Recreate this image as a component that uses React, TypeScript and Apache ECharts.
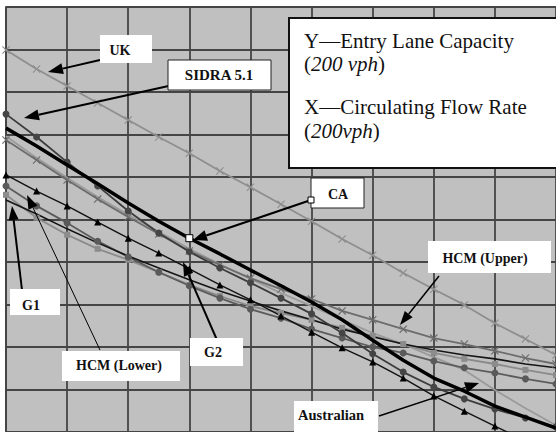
import React, { useEffect, useRef } from "react";
import * as echarts from "echarts";

// x in grid units (each grid cell = 200 vph), samples every half cell
const xValues = [0, 0.5, 1, 1.5, 2, 2.5, 3, 3.5, 4, 4.5, 5, 5.5, 6, 6.5, 7, 7.5, 8, 8.5, 9];

// y in grid units
const ukValues = [8.99, 8.54, 8.14, 7.74, 7.34, 6.94, 6.56, 6.14, 5.76, 5.36, 4.96, 4.54, 4.16, 3.74, 3.36, 2.99, 2.56, 2.19, 1.81];
const sidraValues = [7.48, 6.94, 6.35, 5.79, 5.2, 4.68, 4.24, 3.86, 3.51, 3.15, 2.78, 2.33, 1.84, 1.41, 1.06, 0.78, 0.54, 0.33, 0.12];
const caValues = [7.15, 6.73, 6.28, 5.84, 5.39, 4.96, 4.56, 4.19, 3.81, 3.44, 3.06, 2.64, 2.16, 1.69, 1.27, 0.96, 0.61, 0.35, 0.09];
const hcmUpperValues = [6.87, 6.4, 5.93, 5.48, 5.06, 4.66, 4.26, 3.93, 3.62, 3.36, 3.13, 2.85, 2.64, 2.42, 2.21, 2.07, 1.91, 1.74, 1.6];
const hcmLowerValues = [5.79, 5.32, 4.92, 4.49, 4.12, 3.76, 3.44, 3.15, 2.89, 2.68, 2.42, 2.21, 2.0, 1.86, 1.67, 1.51, 1.39, 1.25, 1.13];
const g1Values = [5.46, 5.13, 4.78, 4.45, 4.14, 3.86, 3.58, 3.32, 3.08, 2.85, 2.64, 2.42, 2.24, 2.07, 1.93, 1.81, 1.72, 1.6, 1.51];
const g2Values = [6.05, 5.67, 5.32, 4.94, 4.56, 4.21, 3.84, 3.46, 3.11, 2.73, 2.35, 1.98, 1.65, 1.27, 0.85, 0.49, 0.14, -0.21, -0.56];
const australianValues = [6.96, 6.45, 5.98, 5.53, 5.11, 4.71, 4.31, 3.95, 3.6, 3.27, 2.96, 2.64, 2.33, 2.07, 1.76, 1.46, 0.99, 0.56, 0.16];
const otherValues = [5.58, 5.04, 4.64, 4.31, 4.05, 3.76, 3.46, 3.2, 2.96, 2.8, 2.64, 2.45, 2.26, 2.07, 1.86, 1.72, 1.6, 1.46, 1.34];

const caMarkerX = 3;

const X_SYMBOL = "path://M0,1L1,0L5,4L9,0L10,1L6,5L10,9L9,10L5,6L1,10L0,9L4,5Z";

function toData(ys: number[]) {
  return ys.map((y, i) => [xValues[i], y]);
}

function arrow(x1: number, y1: number, x2: number, y2: number, lw: number, headLen: number, headW: number) {
  const dx = x2 - x1;
  const dy = y2 - y1;
  const len = Math.sqrt(dx * dx + dy * dy);
  const ux = dx / len;
  const uy = dy / len;
  const bx = x2 - ux * headLen;
  const by = y2 - uy * headLen;
  const px = -uy * headW / 2;
  const py = ux * headW / 2;
  return [
    {
      type: "line",
      z: 100,
      shape: { x1, y1, x2: bx, y2: by },
      style: { stroke: "#000", lineWidth: lw },
    },
    {
      type: "polygon",
      z: 100,
      shape: { points: [[x2, y2], [bx + px, by + py], [bx - px, by - py]] },
      style: { fill: "#000" },
    },
  ];
}

function box(x: number, y: number, w: number, h: number, text: string, cx: number, cy: number, fs: number, border: boolean) {
  return [
    {
      type: "rect",
      z: 101,
      shape: { x, y, width: w, height: h },
      style: { fill: "#fff", stroke: border ? "#222" : null, lineWidth: border ? 1 : 0 },
    },
    {
      type: "text",
      z: 102,
      x: cx,
      y: cy,
      style: {
        text,
        fill: "#111",
        font: `bold ${fs}px "Liberation Serif", serif`,
        align: "center",
        verticalAlign: "middle",
      },
    },
  ];
}

export default function App() {
  const ref = useRef<HTMLDivElement>(null);

  useEffect(() => {
    if (!ref.current) return;
    const chart = echarts.init(ref.current, null, { renderer: "svg" });

    const lineSeries = (name: string, ys: number[], color: string, width: number, symbol: string, size: number, symColor?: string) => ({
      type: "line",
      name,
      data: toData(ys),
      symbol,
      symbolSize: size,
      showSymbol: symbol !== "none",
      clip: true,
      lineStyle: { color, width },
      itemStyle: { color: symColor || color, borderWidth: 0 },
      z: 3,
    });

    const caData = caValues.map((y, i) =>
      xValues[i] === caMarkerX
        ? {
            value: [xValues[i], y],
            symbol: "rect",
            symbolSize: 7,
            itemStyle: { color: "#fff", borderColor: "#000", borderWidth: 1 },
          }
        : { value: [xValues[i], y], symbol: "none" }
    );

    const fontSerif = '"Liberation Serif", "Times New Roman", serif';
    const legendText = (y: number, content: string) => ({
      type: "text",
      z: 102,
      x: 304,
      y,
      style: {
        text: content,
        fill: "#111",
        font: `21px ${fontSerif}`,
        lineHeight: 19,
        verticalAlign: "middle",
        rich: {
          n: { font: `21px ${fontSerif}`, fill: "#111", lineHeight: 19 },
          i: { font: `italic 21px ${fontSerif}`, fill: "#111", lineHeight: 19 },
        },
      },
    });

    const graphic: any[] = [
      // legend box
      { type: "rect", z: 100, shape: { x: 289, y: 18, width: 280, height: 150 }, style: { fill: "#fff", stroke: "#111", lineWidth: 2 } },
      legendText(41, "Y—Entry Lane Capacity"),
      legendText(64, "{n|(}{i|200 vph}{n|)}"),
      legendText(107, "X—Circulating Flow Rate"),
      legendText(131, "{n|(}{i|200vph}{n|)}"),
      // arrows
      ...arrow(100, 60, 48, 72, 2, 15, 11),
      ...arrow(173, 85, 24, 118, 2, 15, 11),
      ...arrow(311, 200, 193, 240, 2, 14, 11),
      ...arrow(439, 276, 400, 325, 1.5, 14, 10),
      ...arrow(22, 290, 12, 206, 2, 14, 10),
      ...arrow(100, 350, 27, 195, 1, 14, 10),
      ...arrow(217, 340, 183, 262, 2, 14, 10),
      ...arrow(379, 416, 479, 383, 1.5, 14, 11),
      // label boxes
      ...box(100, 35, 52, 28, "UK", 120, 50, 14, false),
      ...box(168, 60, 103, 30, "SIDRA 5.1", 219, 75, 15, true),
      ...box(311, 178, 53, 30, "CA", 338, 194, 14, true),
      { type: "rect", z: 103, shape: { x: 308, y: 197, width: 6, height: 6 }, style: { fill: "#fff", stroke: "#000", lineWidth: 1 } },
      ...box(428, 241, 123, 32, "HCM (Upper)", 485, 258, 14, false),
      ...box(10, 289, 50, 26, "G1", 31, 305, 14, false),
      ...box(62, 351, 118, 30, "HCM (Lower)", 119, 365, 14, false),
      ...box(190, 338, 53, 28, "G2", 213, 352, 14, false),
      ...box(294, 401, 84, 34, "Australian", 331, 415, 14.5, false),
    ];

    chart.setOption({
      animation: false,
      backgroundColor: "#fff",
      grid: {
        left: 6,
        top: 7,
        right: -3.5,
        bottom: 0,
        show: true,
        backgroundColor: "#c0c0c0",
        borderWidth: 0,
      },
      xAxis: {
        type: "value",
        min: 0,
        max: 9,
        interval: 1,
        axisLabel: { show: false },
        axisTick: { show: false },
        axisLine: { show: true, lineStyle: { color: "#454545", width: 1.8 } },
        splitLine: { show: true, lineStyle: { color: "#454545", width: 1.8 } },
      },
      yAxis: {
        type: "value",
        min: 0,
        max: 10,
        interval: 1,
        axisLabel: { show: false },
        axisTick: { show: false },
        axisLine: { show: true, lineStyle: { color: "#454545", width: 1.8 } },
        splitLine: { show: true, lineStyle: { color: "#454545", width: 1.8 } },
      },
      series: [
        lineSeries("UK", ukValues, "#8e8e8e", 1.8, X_SYMBOL, 8),
        lineSeries("Australian", australianValues, "#9a9a9a", 1.8, "none", 0),
        lineSeries("HCM (Upper)", hcmUpperValues, "#6c6c6c", 1.8, X_SYMBOL, 8),
        lineSeries("Unlabelled", otherValues, "#8a8a8a", 1.8, "rect", 6, "#8c8c8c"),
        lineSeries("HCM (Lower)", hcmLowerValues, "#5c5c5c", 1.8, "circle", 7, "#5a5a5a"),
        lineSeries("G1", g1Values, "#151515", 1.6, "none", 0),
        lineSeries("SIDRA 5.1", sidraValues, "#3c3c3c", 1.8, "circle", 7, "#454545"),
        lineSeries("G2", g2Values, "#111", 1.4, "triangle", 7, "#000"),
        {
          type: "line",
          name: "CA",
          data: caData,
          showSymbol: true,
          clip: true,
          lineStyle: { color: "#000", width: 3.5 },
          z: 4,
        },
      ],
      graphic,
    });

    return () => chart.dispose();
  }, []);

  return <div ref={ref} style={{ position: "fixed", left: 0, top: 0, width: 556, height: 432 }} />;
}
